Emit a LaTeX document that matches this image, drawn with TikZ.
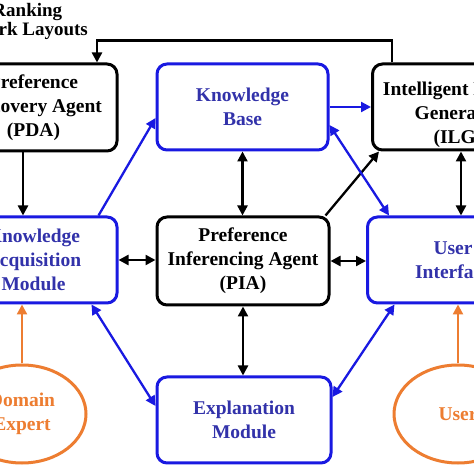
\documentclass[tikz,border=0pt]{standalone}
\usepackage{fontspec}
\setmainfont{Liberation Serif}
\usetikzlibrary{arrows.meta,shapes.geometric}
\definecolor{bborder}{RGB}{25,25,225}
\definecolor{btext}{RGB}{50,50,170}
\definecolor{orng}{RGB}{237,125,49}
\tikzset{
  txt/.style={font=\fontsize{19.5}{24}\selectfont\bfseries, align=center},
  boxk/.style={txt, draw=black, line width=3pt, rounded corners=10pt, inner sep=0pt},
  boxb/.style={txt, draw=bborder, text=btext, line width=3pt, rounded corners=10pt, inner sep=0pt},
  ell/.style={txt, ellipse, draw=orng, text=orng, line width=3pt, inner sep=0pt},
  conn/.style={line width=2.3pt, -{Triangle[length=10pt,width=10pt]}},
  dconn/.style={line width=2.3pt, {Triangle[length=10pt,width=10pt]}-{Triangle[length=10pt,width=10pt]}},
}
\begin{document}
\begin{tikzpicture}[x=1pt,y=1pt]
\useasboundingbox (0,0) rectangle (474,474);
\fill[white] (0,0) rectangle (474,474);
\clip (0,0) rectangle (474,474);

\node[boxk, minimum width=167pt, minimum height=87pt] (pda) at (33.5,366.5) {Preference\\Discovery Agent\\(PDA)};
\node[boxb, minimum width=171pt, minimum height=86pt] (kb) at (242.5,367) {Knowledge\\Base};
\node[boxk, minimum width=171pt, minimum height=86pt] (ilg) at (458,367) {};
\node[txt] (ilgtext) at (458,359) {Intelligent Layout\\Generator\\(ILG)};
\node[boxb, minimum width=167pt, minimum height=86pt] (kam) at (33.5,214) {Knowledge\\Acquisition\\Module};
\node[boxk, minimum width=172pt, minimum height=88pt] (pia) at (243,213) {Preference\\Inferencing Agent\\(PIA)};
\node[boxb, minimum width=171pt, minimum height=86pt] (ui) at (453,214) {User\\Interface};
\node[boxb, minimum width=174pt, minimum height=86pt] (expl) at (244,54) {Explanation\\Module};
\node[ell, minimum width=128pt, minimum height=98pt] (de) at (22,60) {Domain\\Expert};
\node[ell, minimum width=128pt, minimum height=98pt] (user) at (458,60) {User};
\node[txt, font=\fontsize{19}{19}\selectfont\bfseries, inner sep=0pt, anchor=east] (rank) at (88,453) {\hspace*{20pt}Ranking\\Network Layouts};

% black connectors
\draw[conn] ([xshift=-66pt]ilg.north) -- ++(0,22) -| ([xshift=63.5pt]pda.north);
\draw[conn] ([xshift=-10.5pt]pda.south) -- ([xshift=-10.5pt]pda.south |- kam.north);
\draw[dconn] (kb.south) -- (kb.south |- pia.north);
\draw[dconn] ([xshift=3pt]ilg.south) -- ([xshift=3pt]ilg.south |- ui.north);
\draw[dconn] (kam.east) -- (kam.east -| pia.west);
\draw[dconn] (pia.east) -- (pia.east -| ui.west);
\draw[dconn] (pia.south) -- (pia.south |- expl.north);
\draw[conn] ([xshift=-5pt]pia.north east) -- ([xshift=8pt]ilg.south west);

% blue connectors
\draw[conn, bborder] (kb.east) -- (kb.east -| ilg.west);
\draw[conn, bborder] ([xshift=-20pt]kam.north east) -- ([yshift=-11pt]kb.west);
\draw[dconn, bborder] ([yshift=-18pt]kb.east) -- ([xshift=23pt]ui.north west);
\draw[dconn, bborder] ([xshift=-27pt]kam.south east) -- ([yshift=14pt]expl.west);
\draw[dconn, bborder] ([yshift=23pt]expl.east) -- ([xshift=28.5pt]ui.south west);

% orange connectors
\draw[conn, orng] (de.north) -- (de.north |- kam.south);
\draw[conn, orng] (user.north) -- (user.north |- ui.south);
\end{tikzpicture}
\end{document}
